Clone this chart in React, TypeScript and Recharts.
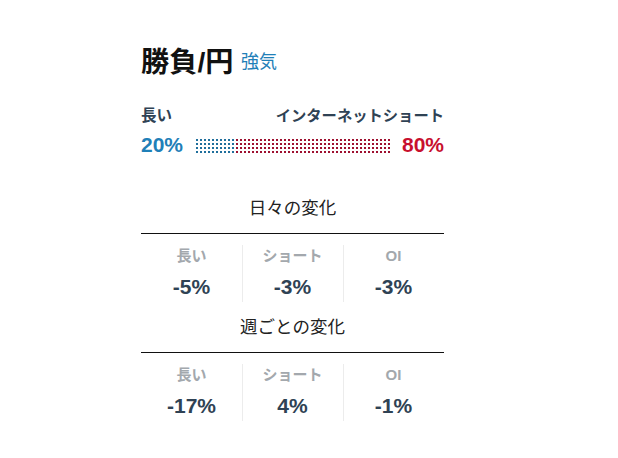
import React from 'react';
import { BarChart, Bar, XAxis, YAxis } from 'recharts';

const pair = '勝負/円';
const bias = '強気';
const longLabel = '長い';
const shortLabel = 'インターネットショート';
const sentiment = [{ name: pair, long: 20, short: 80 }];

const changeHeaders = ['長い', 'ショート', 'OI'];
const dailyTitle = '日々の変化';
const dailyChange = [-5, -3, -3];
const weeklyTitle = '週ごとの変化';
const weeklyChange = [-17, 4, -1];

const FONT = 'Arial, "Liberation Sans", "Noto Sans CJK JP", sans-serif';
const BLUE = '#1f80b8';
const RED = '#c8102e';
const SLATE = '#2f4254';

const pct = (v: number) => `${v}%`;

const abs = (left: number, top: number, extra: React.CSSProperties = {}): React.CSSProperties => ({
  position: 'absolute',
  left,
  top,
  whiteSpace: 'nowrap',
  ...extra,
});

// one block of change figures: title, rule, three columns
const ChangeBlock = ({ title, values, top }: { title: string; values: number[]; top: number }) => (
  <>
    <div style={abs(141, top, { width: 303, textAlign: 'center', fontSize: 17.5, lineHeight: '17px', color: '#222' })}>
      {title}
    </div>
    <div style={abs(141, top + 33, { width: 303, height: 1, background: '#111' })} />
    {changeHeaders.map((h, i) => (
      <React.Fragment key={h}>
        {i > 0 && (
          <div style={abs(141 + i * 101, top + 45, { width: 1, height: 57, background: '#ececec' })} />
        )}
        <div
          style={abs(141 + i * 101, top + 49, {
            width: 101,
            textAlign: 'center',
            fontSize: 15,
            lineHeight: '14px',
            fontWeight: 700,
            color: '#a3a8ad',
          })}
        >
          {h}
        </div>
        <div
          style={abs(141 + i * 101, top + 76, {
            width: 101,
            textAlign: 'center',
            fontSize: 21,
            lineHeight: '21px',
            fontWeight: 700,
            color: SLATE,
          })}
        >
          {pct(values[i])}
        </div>
      </React.Fragment>
    ))}
  </>
);

export default function App() {
  return (
    <div
      style={{
        position: 'absolute',
        left: 0,
        top: 0,
        width: 618,
        height: 458,
        background: '#fff',
        fontFamily: FONT,
        overflow: 'hidden',
      }}
    >
      <div style={abs(141, 47.5, { fontSize: 28.2, lineHeight: '28px', fontWeight: 700, color: '#111' })}>{pair}</div>
      <div style={abs(241, 53, { fontSize: 18, lineHeight: '18px', color: BLUE })}>{bias}</div>

      <div style={abs(141, 108, { fontSize: 15.5, lineHeight: '15px', fontWeight: 700, color: SLATE })}>
        {longLabel}
      </div>
      <div
        style={abs(244, 108, {
          width: 200,
          textAlign: 'right',
          fontSize: 15.3,
          lineHeight: '15px',
          fontWeight: 700,
          color: SLATE,
        })}
      >
        {shortLabel}
      </div>

      <div style={abs(141, 134, { fontSize: 21, lineHeight: '21px', fontWeight: 700, color: BLUE })}>
        {pct(sentiment[0].long)}
      </div>
      <div
        style={abs(344, 134, {
          width: 100,
          textAlign: 'right',
          fontSize: 21,
          lineHeight: '21px',
          fontWeight: 700,
          color: RED,
        })}
      >
        {pct(sentiment[0].short)}
      </div>

      <div style={abs(196, 139)}>
        <BarChart
          width={196}
          height={16}
          data={sentiment}
          layout="vertical"
          margin={{ top: 0, right: 0, bottom: 0, left: 0 }}
          barCategoryGap={0}
        >
          <defs>
            <pattern id="dotBlue" width={4} height={4} patternUnits="userSpaceOnUse">
              <rect x={0} y={0} width={2} height={2} fill="#1f6f9c" />
            </pattern>
            <pattern id="dotRed" width={4} height={4} patternUnits="userSpaceOnUse">
              <rect x={0} y={0} width={2} height={2} fill="#9e1030" />
            </pattern>
          </defs>
          <XAxis type="number" domain={[0, 100]} hide />
          <YAxis type="category" dataKey="name" hide />
          <Bar dataKey="long" stackId="s" fill="url(#dotBlue)" isAnimationActive={false} />
          <Bar dataKey="short" stackId="s" fill="url(#dotRed)" isAnimationActive={false} />
        </BarChart>
      </div>

      <ChangeBlock title={dailyTitle} values={dailyChange} top={200} />
      <ChangeBlock title={weeklyTitle} values={weeklyChange} top={319} />
    </div>
  );
}
